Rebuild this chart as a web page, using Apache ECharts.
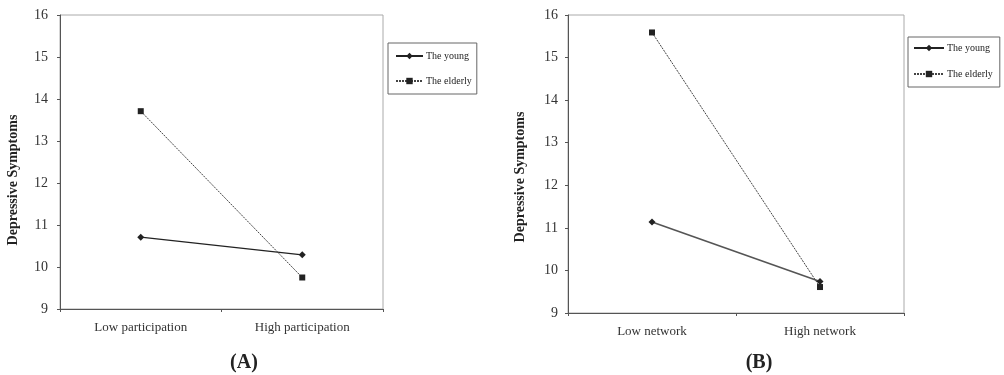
<!DOCTYPE html>
<html>
<head>
<meta charset="utf-8">
<script src="https://cdn.jsdelivr.net/npm/echarts@6/dist/echarts.min.js"></script>
<style>
html,body{margin:0;padding:0;background:#fff;}
#c{width:1004px;height:375px;}
</style>
</head>
<body>
<div id="c"></div>
<script>
var categoriesA = ['Low participation', 'High participation'];
var categoriesB = ['Low network', 'High network'];
var youngA = [10.71, 10.29];
var elderlyA = [13.71, 9.75];
var youngB = [11.14, 9.74];
var elderlyB = [15.59, 9.61];
var seriesNames = ['The young', 'The elderly'];
var panelTitles = ['(A)', '(B)'];
var yName = 'Depressive Symptoms';

var serif = 'Liberation Serif, Times New Roman, serif';
var chart = echarts.init(document.getElementById('c'));

function yAxis(gi, gap, shift, margin) {
  return {
    type: 'value', gridIndex: gi, min: 9, max: 16, interval: 1,
    name: yName, nameLocation: 'middle', nameGap: gap,
    nameTextStyle: {fontFamily: serif, fontWeight: 'bold', fontSize: 14, color: '#222', padding: [0, shift, 0, 0]},
    axisLine: {show: true, lineStyle: {color: '#555', width: 1}},
    axisTick: {show: true, length: 3, lineStyle: {color: '#555'}},
    splitLine: {show: false},
    axisLabel: {fontFamily: serif, fontSize: 14, color: '#333', margin: margin}
  };
}
function xAxis(gi, cats) {
  return {
    type: 'category', gridIndex: gi, data: cats, boundaryGap: true,
    axisLine: {show: true, lineStyle: {color: '#555', width: 1}},
    axisTick: {show: true, length: 3, lineStyle: {color: '#555'}},
    axisLabel: {fontFamily: serif, fontSize: 13, color: '#333', margin: 12}
  };
}
function young(gi, data, col, w) {
  return {
    name: seriesNames[0], type: 'line', xAxisIndex: gi, yAxisIndex: gi, data: data,
    symbol: 'diamond', symbolSize: 7, color: '#222',
    lineStyle: {color: col, width: w, type: 'solid'},
    itemStyle: {color: '#222'}
  };
}
function elderly(gi, data) {
  return {
    name: seriesNames[1], type: 'line', xAxisIndex: gi, yAxisIndex: gi, data: data,
    symbol: 'rect', symbolSize: 6, color: '#222',
    lineStyle: {color: '#444', width: 1, type: [2, 1]},
    itemStyle: {color: '#222'}
  };
}
function legend(left, top, pad, gap, w, fs) {
  return {
    orient: 'vertical', left: left, top: top, data: seriesNames,
    borderColor: '#666', borderWidth: 1, padding: pad, itemGap: gap,
    itemWidth: w, itemHeight: 8, selectedMode: false,
    textStyle: {fontFamily: serif, fontSize: fs, color: '#222', padding: [0, 0, 0, -2]}
  };
}

chart.setOption({
  animation: false,
  backgroundColor: '#fff',
  title: [
    {text: panelTitles[0], left: 239, top: 348, textAlign: 'center',
     textStyle: {fontFamily: serif, fontWeight: 'bold', fontSize: 20, color: '#222'}},
    {text: panelTitles[1], left: 754, top: 348, textAlign: 'center',
     textStyle: {fontFamily: serif, fontWeight: 'bold', fontSize: 20, color: '#222'}}
  ],
  legend: [
    legend(388, 43, [8, 5, 8, 7], 15, 27, 10),
    legend(908, 37, [6, 7, 8, 5], 16, 30, 10)
  ],
  grid: [
    {left: 60, top: 15, width: 323, height: 294, show: true, borderColor: '#aaa', borderWidth: 1, containLabel: false},
    {left: 568, top: 15, width: 336, height: 298, show: true, borderColor: '#aaa', borderWidth: 1, containLabel: false}
  ],
  xAxis: [xAxis(0, categoriesA), xAxis(1, categoriesB)],
  yAxis: [yAxis(0, 40, 36, 12), yAxis(1, 41, 26, 10)],
  series: [young(0, youngA, '#222', 1.2), elderly(0, elderlyA), young(1, youngB, '#555', 1.6), elderly(1, elderlyB)]
});
</script>
</body>
</html>
